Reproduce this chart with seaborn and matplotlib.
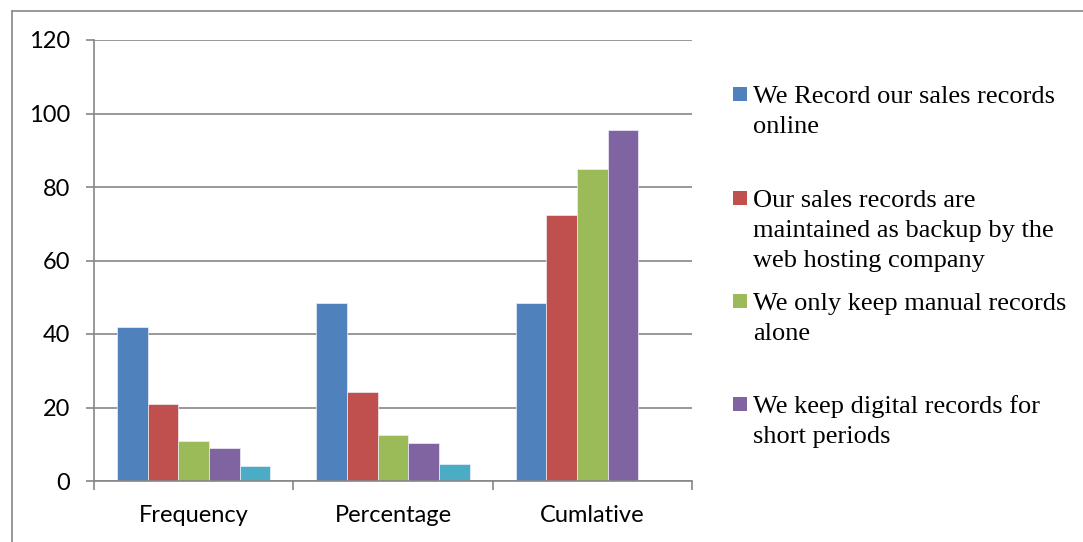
# -*- coding: utf-8 -*-
import matplotlib
matplotlib.use('Agg')
import matplotlib.pyplot as plt
import numpy as np
import pandas as pd
import seaborn as sns
from matplotlib.lines import Line2D
from matplotlib.patches import Rectangle

categories = ['Frequency', 'Percentage', 'Cumlative']
series_labels = [
    'We Record our sales records\nonline',
    'Our sales records are\nmaintained as backup by the\nweb hosting company',
    'We only keep manual records\nalone',
    'We keep digital records for\nshort periods',
    'Other',
]
online = [42, 48.3, 48.3]
backup = [21, 24.1, 72.4]
manual = [11, 12.6, 85.0]
digital = [9, 10.3, 95.4]
other = [4, 4.6, np.nan]
colors = ['#4F81BD', '#C0504D', '#9BBB59', '#8064A2', '#4BACC6']
yticks = [0, 20, 40, 60, 80, 100, 120]

GRAY = '#868686'
W, H = 1083, 542


def build_df():
    rows = []
    for label, values in zip(series_labels, [online, backup, manual, digital, other]):
        for cat, v in zip(categories, values):
            rows.append({'category': cat, 'series': label, 'value': v})
    return pd.DataFrame(rows)


def plt_group_bar(df_data, savedir='out.png'):
    sns.set_style('white')
    plt.rcParams['text.color'] = 'black'
    plt.rcParams['xtick.color'] = 'black'
    plt.rcParams['ytick.color'] = 'black'
    fig = plt.figure(figsize=(W / 100, H / 100), dpi=100)
    ax = fig.add_axes([94 / W, 1 - 481 / H, (692 - 94) / W, (481 - 40) / H])

    sns.barplot(data=df_data, x='category', y='value', hue='series', order=categories,
                hue_order=series_labels, palette=colors, saturation=1, width=0.77, gap=0,
                edgecolor='#eef0f8', linewidth=0.5, ax=ax, legend=False)

    ax.set_xlim(-0.5, len(categories) - 0.5)
    ax.set_ylim(0, 120)
    ax.set_yticks(yticks)
    ax.set_xlabel('')
    ax.set_ylabel('')
    ax.yaxis.grid(True, color=GRAY, linewidth=1.2)
    ax.set_axisbelow(True)
    for side in ['top', 'right']:
        ax.spines[side].set_visible(False)
    for side in ['left', 'bottom']:
        ax.spines[side].set_color(GRAY)
        ax.spines[side].set_linewidth(1.2)

    tick_font = dict(family='Lato', size=17, color='black')
    ax.set_yticklabels([str(t) for t in yticks], fontdict=tick_font)
    ax.set_xticklabels(categories, fontdict=tick_font)
    ax.tick_params(axis='y', length=6, width=1.2, color=GRAY, pad=11, direction='out', left=True)
    ax.tick_params(axis='x', which='major', length=0, pad=17)
    ax.set_xticks(np.arange(len(categories) + 1) - 0.5, minor=True)
    ax.tick_params(axis='x', which='minor', length=6.5, width=1.2, color=GRAY, direction='out', bottom=True)

    # chart frame
    fig.add_artist(Line2D([12 / W, 12 / W], [0, 1 - 11 / H], color=GRAY, linewidth=1.2))
    fig.add_artist(Line2D([12 / W, 1], [1 - 11 / H, 1 - 11 / H], color=GRAY, linewidth=1.2))

    # legend (first four series only, like the original)
    baselines = [103, 207, 310, 413]
    for label, color, yb in zip(series_labels[:4], colors[:4], baselines):
        fig.add_artist(Rectangle((733 / W, 1 - (yb - 2) / H), 14 / W, 14 / H,
                                 facecolor=color, edgecolor='none'))
        for i, line in enumerate(label.split('\n')):
            fig.text(753 / W, 1 - (yb + 30 * i) / H, line, family='Liberation Serif',
                     size=19, va='baseline', ha='left', color='black')

    plt.savefig(savedir, dpi=100)


if __name__ == '__main__':
    plt_group_bar(build_df())
